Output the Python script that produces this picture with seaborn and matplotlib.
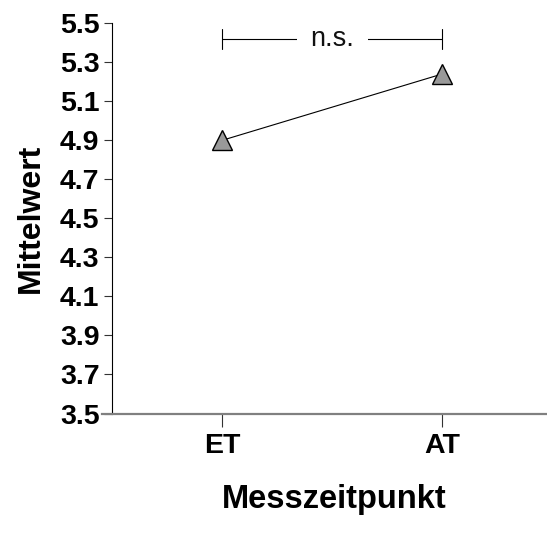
import matplotlib
matplotlib.use("Agg")
import matplotlib.pyplot as plt
import seaborn as sns
import numpy as np
import pandas as pd

categories = ["ET", "AT"]
means = [4.90, 5.24]
y_ticks = [3.5, 3.7, 3.9, 4.1, 4.3, 4.5, 4.7, 4.9, 5.1, 5.3, 5.5]
sig_label = "n.s."
sig_y = 5.42

sns.set_theme(style="white")
plt.rcParams['font.family'] = ['Liberation Sans', 'DejaVu Sans']
plt.rcParams['text.color'] = 'black'
plt.rcParams['axes.labelcolor'] = 'black'
plt.rcParams['xtick.color'] = 'black'
plt.rcParams['ytick.color'] = 'black'

fig = plt.figure(figsize=(5.47, 5.41), dpi=100)
ax = fig.add_axes([112/547, (541-413.5)/541, 1 - 112/547, (413.5-23.3)/541])

df = pd.DataFrame({"Messzeitpunkt": categories, "Mittelwert": means})
sns.pointplot(data=df, x="Messzeitpunkt", y="Mittelwert", ax=ax,
              color="black", markers="^", errorbar=None,
              markerfacecolor="#999999", markeredgecolor="black",
              markersize=14, markeredgewidth=1.0, linewidth=0.8)

ax.set_ylim(3.5, 5.5)
ax.set_xlim(-0.5, 1.477)
ax.set_yticks(y_ticks)
ax.set_yticklabels([f"{v:.1f}" for v in y_ticks], fontsize=20.5, fontweight="bold", color="black")
ax.set_xticks(range(len(categories)))
ax.set_xticklabels(categories, fontsize=20.5, fontweight="bold", color="black")

for s in ["top", "right"]:
    ax.spines[s].set_visible(False)
ax.spines["left"].set_color("black")
ax.spines["left"].set_linewidth(0.8)
ax.spines["bottom"].set_color("#808080")
ax.spines["bottom"].set_linewidth(1.6)
ax.spines["bottom"].set_bounds(-0.545, 1.477)

ax.tick_params(axis="y", which="major", left=True, length=6, width=0.8, color="#333333", pad=3)
ax.tick_params(axis="x", which="major", bottom=True, length=9, width=0.8, color="#333333", pad=5)

ax.set_xlabel("Messzeitpunkt", fontsize=23.5, fontweight="bold", color="black")
ax.xaxis.set_label_coords(0.51, -0.18)
ax.set_ylabel("Mittelwert", fontsize=23, fontweight="bold", labelpad=10, color="black")

# significance bracket
ax.plot([0, 1], [sig_y, sig_y], color="black", lw=0.8)
ax.plot([0, 0], [sig_y - 0.05, sig_y + 0.05], color="black", lw=0.8)
ax.plot([1, 1], [sig_y - 0.05, sig_y + 0.05], color="black", lw=0.8)
ax.text(0.5, sig_y, sig_label, ha="center", va="center", fontsize=19.5, color="#111111",
        bbox=dict(boxstyle="square,pad=0.5", facecolor="white", edgecolor="none"))

fig.savefig("out.png", dpi=100)
